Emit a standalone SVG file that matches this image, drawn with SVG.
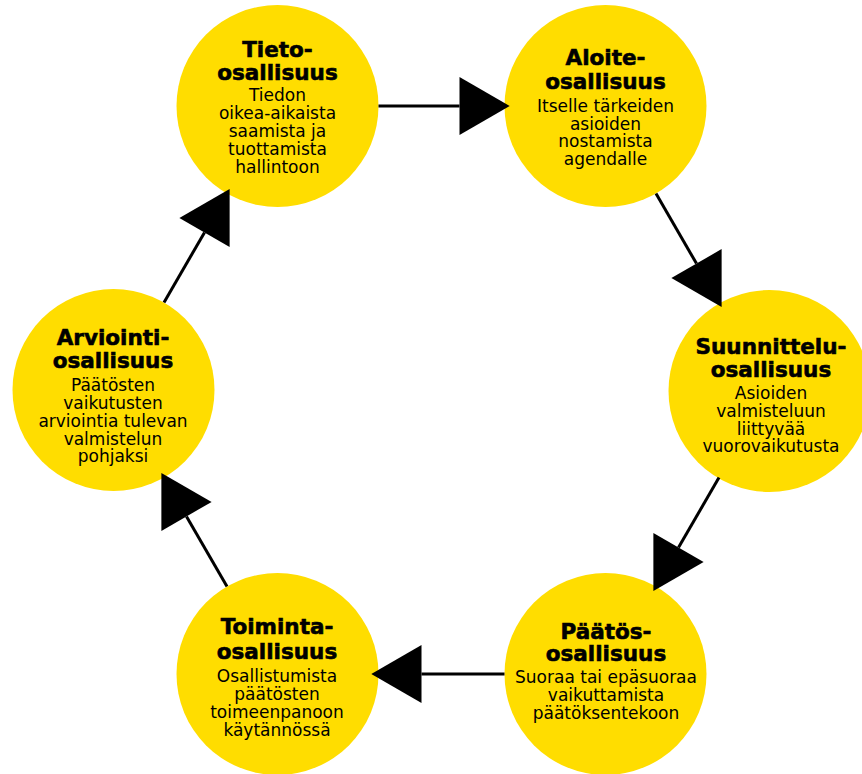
<svg xmlns="http://www.w3.org/2000/svg" width="862" height="774" viewBox="0 0 862 774">
<style>
.c{fill:#FFDD00}
.t{font-family:"DejaVu Sans",sans-serif;font-weight:700;font-size:21.5px;fill:#000;text-anchor:middle;stroke:#000;stroke-width:0.6}
.b{font-family:"DejaVu Sans",sans-serif;font-size:17px;fill:#000;text-anchor:middle}
.l{stroke:#000;stroke-width:3;fill:none;marker-end:url(#ah)}
</style>
<defs>
<marker id="ah" markerUnits="userSpaceOnUse" markerWidth="52" markerHeight="60" refX="0" refY="29" orient="auto" overflow="visible">
<path d="M0,0 L50.2,29 L0,58 Z" fill="#000"/>
</marker>
</defs>
<rect width="862" height="774" fill="#fff"/>
<g id="tieto">
<circle class="c" cx="277.5" cy="106" r="101"/>
<text class="t" x="277.5" y="57">Tieto-</text>
<text class="t" x="277.5" y="80">osallisuus</text>
<text class="b" x="277.5" y="101">Tiedon</text>
<text class="b" x="277.5" y="119">oikea-aikaista</text>
<text class="b" x="277.5" y="137">saamista ja</text>
<text class="b" x="277.5" y="155">tuottamista</text>
<text class="b" x="277.5" y="173">hallintoon</text>
</g>
<g id="aloite">
<circle class="c" cx="605.5" cy="106" r="101"/>
<text class="t" x="605.5" y="65">Aloite-</text>
<text class="t" x="605.5" y="89">osallisuus</text>
<text class="b" x="605.5" y="112">Itselle tärkeiden</text>
<text class="b" x="605.5" y="129.5">asioiden</text>
<text class="b" x="605.5" y="147">nostamista</text>
<text class="b" x="605.5" y="164.5">agendalle</text>
</g>
<g id="suunnittelu">
<circle class="c" cx="769.5" cy="391" r="101"/>
<text class="t" x="771" y="354">Suunnittelu-</text>
<text class="t" x="771" y="377">osallisuus</text>
<text class="b" x="771" y="399">Asioiden</text>
<text class="b" x="771" y="417">valmisteluun</text>
<text class="b" x="771" y="434.5">liittyvää</text>
<text class="b" x="771" y="452">vuorovaikutusta</text>
</g>
<g id="paatos">
<circle class="c" cx="605.5" cy="674" r="101"/>
<text class="t" x="606" y="639">Päätös-</text>
<text class="t" x="606" y="661">osallisuus</text>
<text class="b" x="606" y="683">Suoraa tai epäsuoraa</text>
<text class="b" x="606" y="701">vaikuttamista</text>
<text class="b" x="606" y="718.5">päätöksentekoon</text>
</g>
<g id="toiminta">
<circle class="c" cx="277.5" cy="674" r="101"/>
<text class="t" x="277" y="634">Toiminta-</text>
<text class="t" x="277" y="659">osallisuus</text>
<text class="b" x="277" y="682">Osallistumista</text>
<text class="b" x="277" y="700">päätösten</text>
<text class="b" x="277" y="718">toimeenpanoon</text>
<text class="b" x="277" y="736">käytännössä</text>
</g>
<g id="arviointi">
<circle class="c" cx="113.5" cy="390" r="101"/>
<text class="t" x="113" y="345">Arviointi-</text>
<text class="t" x="113" y="368">osallisuus</text>
<text class="b" x="113" y="391">Päätösten</text>
<text class="b" x="113" y="409">vaikutusten</text>
<text class="b" x="113" y="427">arviointia tulevan</text>
<text class="b" x="113" y="444.5">valmistelun</text>
<text class="b" x="113" y="462">pohjaksi</text>
</g>
<g id="connectors">
<line class="l" x1="378.5" y1="106" x2="459.5" y2="106"/>
<line class="l" x1="656" y1="193.5" x2="696.5" y2="263.6"/>
<line class="l" x1="719" y1="477.5" x2="678.5" y2="547.6"/>
<line class="l" x1="504.5" y1="674" x2="421.5" y2="674"/>
<line class="l" x1="227" y1="586.5" x2="186.5" y2="516.4"/>
<line class="l" x1="164" y1="302.5" x2="204.5" y2="232.4"/>
</g>
</svg>
